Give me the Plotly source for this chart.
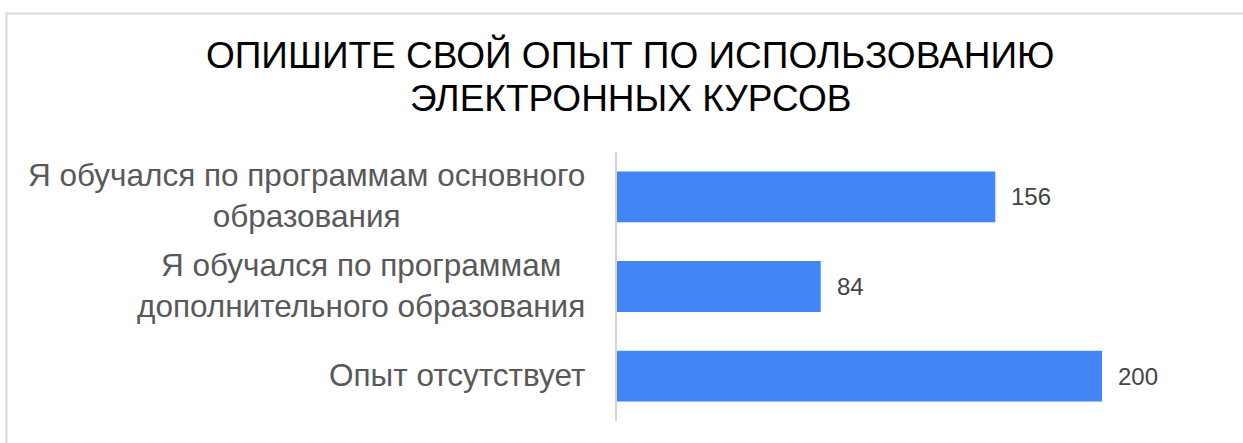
import plotly.graph_objects as go

# Survey answers (top to bottom) and respondent counts
categories = [
    "Я обучался по программам основного<br>образования",
    "Я обучался по программам<br>дополнительного образования",
    "Опыт отсутствует",
]
counts = [156, 84, 200]
title_text = "ОПИШИТЕ СВОЙ ОПЫТ ПО ИСПОЛЬЗОВАНИЮ<br>ЭЛЕКТРОННЫХ КУРСОВ"

FONT = "Arial, 'Liberation Sans', sans-serif"
BAR_COLOR = "#4285F4"

W, H = 1243, 443
M_L, M_R, M_T, M_B = 617, 66, 151.5, 21.5
plot_w = W - M_L - M_R
plot_h = H - M_T - M_B


def px_to_paper_x(px):
    return (px - M_L) / plot_w


def px_to_paper_y(py):
    return (H - M_B - py) / plot_h


fig = go.Figure(
    go.Bar(
        x=counts,
        y=categories,
        orientation="h",
        marker=dict(color=BAR_COLOR, line=dict(width=0)),
        width=0.567,
        hoverinfo="x+y",
    )
)

annotations = []
# value labels to the right of each bar
for cat, val in zip(categories, counts):
    annotations.append(dict(
        x=val, y=cat, xref="x", yref="y", text=str(val),
        showarrow=False, xanchor="left", xshift=14,
        font=dict(family=FONT, size=24, color="#444444"),
    ))

# category labels: block right-aligned to the axis, lines centred inside it
for cat in categories:
    annotations.append(dict(
        x=0, y=cat, xref="x", yref="y", text=cat,
        showarrow=False, xanchor="right", yanchor="middle", align="center",
        xshift=-30, yshift=1,
        font=dict(family=FONT, size=31.5, color="#595959"),
    ))

# chart title, one annotation per line
TITLE_MID = [54, 97.5]
for line, py in zip(title_text.split("<br>"), TITLE_MID):
    annotations.append(dict(
        x=px_to_paper_x(630), y=px_to_paper_y(py), xref="paper", yref="paper",
        text=line, showarrow=False, xanchor="center", yanchor="middle",
        font=dict(family=FONT, size=37, color="#000000"),
    ))

fig.update_layout(
    width=W,
    height=H,
    margin=dict(l=M_L, r=M_R, t=M_T, b=M_B, pad=0),
    paper_bgcolor="white",
    plot_bgcolor="white",
    showlegend=False,
    annotations=annotations,
    shapes=[dict(
        type="rect", xref="paper", yref="paper",
        x0=px_to_paper_x(6.5), x1=px_to_paper_x(1300),
        y0=px_to_paper_y(500), y1=px_to_paper_y(12.5),
        line=dict(color="#d9d9d9", width=2), fillcolor="rgba(0,0,0,0)",
        layer="below",
    )],
    xaxis=dict(
        range=[0, plot_w / 2.425],
        showgrid=False, zeroline=False, showticklabels=False,
        showline=False, fixedrange=True,
    ),
    yaxis=dict(
        autorange="reversed",
        showticklabels=False, showgrid=False, zeroline=False,
        showline=True, linecolor="#d3d3d3", linewidth=2,
        fixedrange=True,
    ),
)

fig.write_html("out.html", config={"displayModeBar": False})
